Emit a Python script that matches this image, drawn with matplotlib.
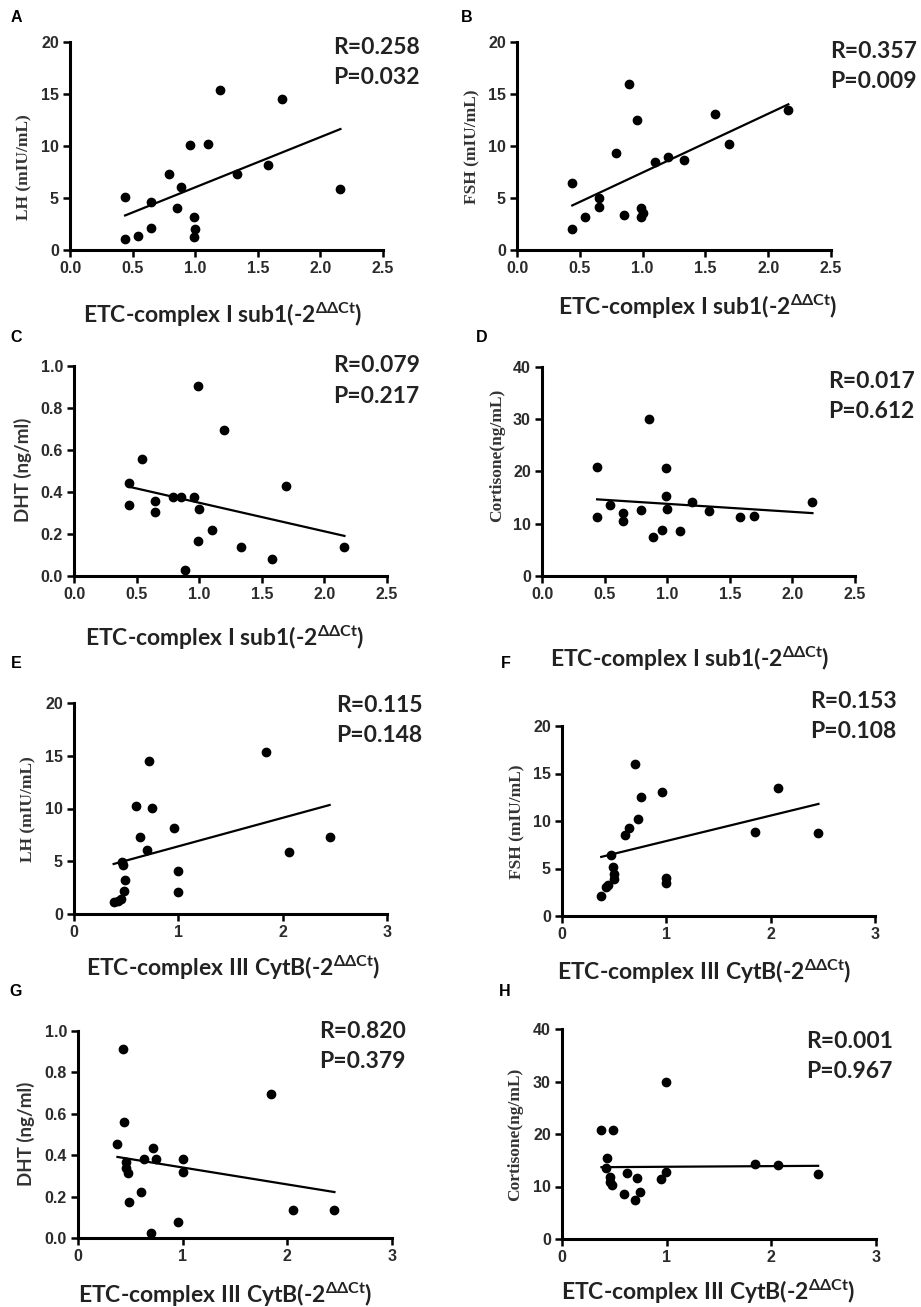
import numpy as np
import matplotlib.pyplot as plt

plt.rcParams['mathtext.fontset'] = 'custom'
plt.rcParams['mathtext.rm'] = 'Lato:bold'
plt.rcParams['mathtext.it'] = 'Lato:bold'
plt.rcParams['mathtext.bf'] = 'Lato:bold'

W, H = 921, 1307

# ETC-complex I sub1 expression, panels A-D
x_sub1 = [0.44, 0.44, 0.54, 0.65, 0.65, 0.79, 0.855, 0.89, 0.955, 0.99, 0.99, 1.0,
          1.1, 1.2, 1.33, 1.58, 1.69, 2.16]
lh_a = [1.06, 5.12, 1.38, 2.14, 4.64, 7.26, 4.06, 6.08, 10.08, 3.2, 1.22, 2.05,
        10.18, 15.36, 7.3, 8.16, 14.5, 5.89]
fsh_b = [1.98, 6.4, 3.17, 5.02, 4.1, 9.28, 3.39, 16.0, 12.54, 4.0, 3.2, 3.6,
         8.48, 8.96, 8.64, 13.12, 10.18, 13.44]
dht_c = [0.445, 0.338, 0.556, 0.357, 0.306, 0.377, 0.377, 0.029, 0.377, 0.905, 0.168, 0.317,
         0.219, 0.694, 0.136, 0.079, 0.428, 0.136]
cort_d = [20.83, 11.21, 13.57, 11.97, 10.57, 12.61, 30.13, 7.52, 8.79, 20.7, 15.35, 12.74,
          8.54, 14.2, 12.42, 11.34, 11.53, 14.2]

# ETC-complex III CytB expression, panels E-H
x_e = [0.38, 0.42, 0.45, 0.457, 0.473, 0.489, 0.483, 0.595, 0.633, 0.697, 0.72, 0.752,
       0.959, 1.0, 1.0, 1.84, 2.063, 2.45]
lh_e = [1.1, 1.25, 1.4, 4.97, 4.65, 3.23, 2.21, 10.19, 7.28, 6.08, 14.46, 10.03,
        8.13, 4.08, 2.12, 15.32, 5.92, 7.28]
x_f = [0.376, 0.42, 0.44, 0.465, 0.485, 0.495, 0.50, 0.60, 0.638, 0.702, 0.724, 0.757,
       0.958, 1.0, 1.0, 1.852, 2.069, 2.458]
fsh_f = [2.1, 3.1, 3.26, 6.45, 5.2, 4.45, 3.86, 8.53, 9.3, 16.0, 10.18, 12.49,
         13.08, 4.03, 3.5, 8.87, 13.44, 8.7]
x_g = [0.431, 0.437, 0.377, 0.456, 0.456, 0.478, 0.488, 0.60, 0.629, 0.718, 0.744, 0.702,
       0.957, 0.999, 0.999, 1.841, 2.058, 2.45]
dht_g = [0.912, 0.56, 0.453, 0.365, 0.338, 0.314, 0.172, 0.222, 0.383, 0.434, 0.381, 0.024,
         0.077, 0.383, 0.321, 0.696, 0.137, 0.137]
x_h = [0.377, 0.488, 0.43, 0.424, 0.463, 0.463, 0.482, 0.621, 0.717, 0.998, 0.95, 0.59,
       0.743, 0.695, 0.998, 1.842, 2.065, 2.447]
cort_h = [20.8, 20.67, 15.4, 13.5, 11.9, 10.95, 10.3, 12.54, 11.58, 12.73, 11.4, 8.53,
          8.91, 7.44, 30.0, 14.25, 14.12, 12.35]

stats = {'A': ('R=0.258', 'P=0.032'), 'B': ('R=0.357', 'P=0.009'),
         'C': ('R=0.079', 'P=0.217'), 'D': ('R=0.017', 'P=0.612'),
         'E': ('R=0.115', 'P=0.148'), 'F': ('R=0.153', 'P=0.108'),
         'G': ('R=0.820', 'P=0.379'), 'H': ('R=0.001', 'P=0.967')}

lab1 = r'ETC-complex I sub1(-2$^{\Delta\Delta Ct}$)'
lab3 = r'ETC-complex III CytB(-2$^{\Delta\Delta Ct}$)'

x_ticks1 = [0.0, 0.5, 1.0, 1.5, 2.0, 2.5]
x_ticks3 = [0, 1, 2, 3]

# letter, x, y, axes box (left, top, right, bottom in px), ylim, yticks, ytick fmt, ylabel,
# ylabel font, ylabel pos, xticks, xlabel, xlabel pos, letter pos, stats pos
panels = [
    ('A', x_sub1, lh_a, (70, 42, 383, 250), 20, [0, 5, 10, 15, 20], '{:g}', 'LH (mIU/mL)',
     'serif', (24, 167), x_ticks1, lab1, (223, 315), (16, 18), (333, 47)),
    ('B', x_sub1, fsh_b, (517, 42, 831, 250), 20, [0, 5, 10, 15, 20], '{:g}', 'FSH (mIU/mL)',
     'serif', (472, 147), x_ticks1, lab1, (698, 307), (467, 18), (830, 52)),
    ('C', x_sub1, dht_c, (74, 366, 387, 576), 1.0, [0, 0.2, 0.4, 0.6, 0.8, 1.0], '{:.1f}',
     'DHT (ng/ml)', 'sans', (23, 470), x_ticks1, lab1, (225, 638), (16, 337), (333, 366)),
    ('D', x_sub1, cort_d, (542, 367, 855, 576), 40, [0, 10, 20, 30, 40], '{:g}',
     'Cortisone(ng/mL)', 'serif', (497, 455), x_ticks1, lab1, (690, 659), (482, 337), (828, 381)),
    ('E', x_e, lh_e, (74, 703, 387, 914), 20, [0, 5, 10, 15, 20], '{:g}', 'LH (mIU/mL)',
     'serif', (28, 809), x_ticks3, lab3, (233, 968), (16, 664), (336, 705)),
    ('F', x_f, fsh_f, (562, 726, 875, 916), 20, [0, 5, 10, 15, 20], '{:g}', 'FSH (mIU/mL)',
     'serif', (517, 822), x_ticks3, lab3, (704, 972), (506, 664), (810, 702)),
    ('G', x_g, dht_g, (78, 1031, 392, 1238), 1.0, [0, 0.2, 0.4, 0.6, 0.8, 1.0], '{:.1f}',
     'DHT (ng/ml)', 'sans', (26, 1134), x_ticks3, lab3, (225, 1295), (16, 992), (319, 1032)),
    ('H', x_h, cort_h, (562, 1029, 876, 1239), 40, [0, 10, 20, 30, 40], '{:g}',
     'Cortisone(ng/mL)', 'serif', (515, 1134), x_ticks3, lab3, (708, 1292), (505, 992), (806, 1042)),
]

fig = plt.figure(figsize=(W / 100, H / 100), dpi=100)

for (letter, xs, ys, box, ymax, yticks, yfmt, ylabel, yfont, ypos,
     xticks, xlabel, xpos, lpos, spos) in panels:
    l, t, r, b = box
    ax = fig.add_axes([l / W, 1 - b / H, (r - l) / W, (b - t) / H])
    xs = np.array(xs)
    ys = np.array(ys)
    ax.scatter(xs, ys, s=36, color='black', zorder=3, clip_on=False)
    k, m = np.polyfit(xs, ys, 1)
    xl = np.array([xs.min(), xs.max()])
    ax.plot(xl, k * xl + m, color='black', lw=1.6, zorder=2)
    ax.set_xlim(0, xticks[-1])
    ax.set_ylim(0, ymax)
    ax.set_xticks(xticks)
    ax.set_yticks(yticks)
    if xticks[-1] == 3:
        ax.set_xticklabels([str(v) for v in xticks])
    else:
        ax.set_xticklabels(['{:.1f}'.format(v) for v in xticks])
    ax.set_yticklabels([yfmt.format(v) for v in yticks])
    for s in ['top', 'right']:
        ax.spines[s].set_visible(False)
    for s in ['left', 'bottom']:
        ax.spines[s].set_linewidth(2.2)
    ax.tick_params(width=1.8, length=5, pad=3, labelsize=11.5, labelcolor='#2b2b2b')
    for lbl in ax.get_xticklabels() + ax.get_yticklabels():
        lbl.set_fontfamily('Liberation Sans')
        lbl.set_fontweight('bold')

    if yfont == 'serif':
        fig.text(ypos[0] / W, 1 - ypos[1] / H, ylabel, rotation=90, ha='center', va='center',
                 fontsize=12.5, fontweight='bold', family='Liberation Serif', color='#333333')
    else:
        fig.text(ypos[0] / W, 1 - ypos[1] / H, ylabel, rotation=90, ha='center', va='center',
                 fontsize=13.5, fontweight='bold', family='Lato', color='#333333')

    fig.text(xpos[0] / W, 1 - xpos[1] / H, xlabel, ha='center', va='center',
             fontsize=16.5, fontweight='bold', family='Lato', color='#222222')
    fig.text(lpos[0] / W, 1 - lpos[1] / H, letter, ha='center', va='center',
             fontsize=11.5, fontweight='bold', family='Liberation Sans')
    rtxt, ptxt = stats[letter]
    fig.text(spos[0] / W, 1 - spos[1] / H, rtxt, ha='left', va='center',
             fontsize=16.5, fontweight='bold', family='Lato', color='#222222')
    fig.text(spos[0] / W, 1 - (spos[1] + 30) / H, ptxt, ha='left', va='center',
             fontsize=16.5, fontweight='bold', family='Lato', color='#222222')

fig.savefig('out.png', dpi=100)
